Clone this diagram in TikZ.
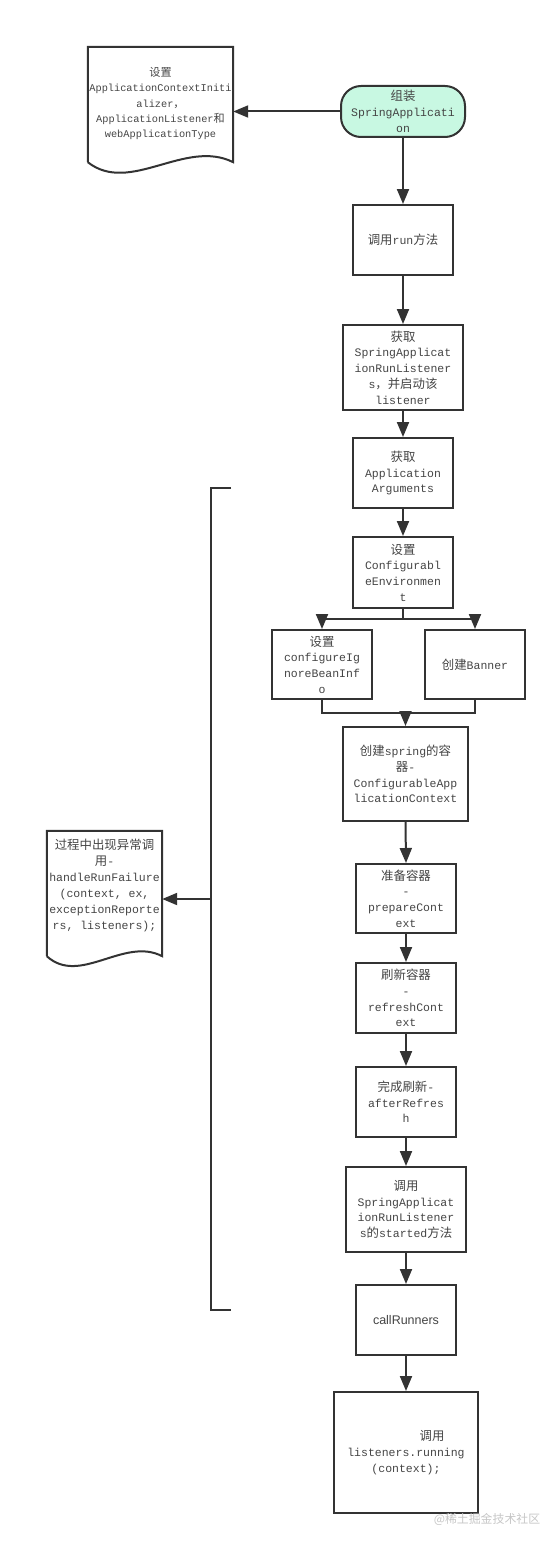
\documentclass[tikz,border=0pt]{standalone}
\usepackage{fontspec}
\setmainfont{Liberation Mono}
\newfontfamily\cjk[Scale=1.08]{Noto Sans CJK SC}
\newfontfamily\arial{Liberation Sans}
\usetikzlibrary{arrows.meta}
\definecolor{linec}{HTML}{333333}
\definecolor{txtc}{HTML}{444444}
\definecolor{mint}{HTML}{C8F8E2}
\newcommand{\zh}[1]{{\cjk #1}}
\tikzset{
  box/.style={draw=linec, line width=2pt, minimum width=100pt, minimum height=70pt,
    align=center, text=txtc, inner sep=1pt, font=\fontsize{11.5}{15.7}\selectfont},
  doctext/.style={align=center, text=txtc, inner sep=1pt},
  wire/.style={draw=linec, line width=2pt},
  flow/.style={wire, -{Triangle[length=15pt,width=12pt]}},
}
\begin{document}
\begin{tikzpicture}[x=1pt, y=-1pt]
\useasboundingbox (0,0) rectangle (557,1544);
% start and the two notes
\node[box, rounded corners=20pt, fill=mint, minimum width=124pt, minimum height=51pt] (start) at (403,111.5)
  {\zh{组装}\\SpringApplicati\\on};
\node[doctext, font=\fontsize{10.3}{15.2}\selectfont, minimum width=145pt, minimum height=113pt] (docA) at (160.5,103.5)
  {\zh{设置}\\ApplicationContextIniti\\alizer\zh{，}\\ApplicationListener\zh{和}\\webApplicationType};
\draw[wire] ([shift={(0,2)}]docA.south west) -- (docA.north west) -- (docA.north east) -- ([shift={(0,2)}]docA.south east)
  .. controls ([shift={(-48,-22)}]docA.south east) and ([shift={(42,35)}]docA.south west) .. ([shift={(0,2)}]docA.south west);
\node[doctext, font=\fontsize{11.5}{16}\selectfont, minimum width=115pt, minimum height=108pt] (docB) at (104.5,885)
  {\zh{过程中出现异常调}\\\zh{用}-\\handleRunFailure\\(context, ex,\\exceptionReporte\\rs, listeners);};
\draw[wire] ([shift={(0,17)}]docB.south west) -- (docB.north west) -- (docB.north east) -- ([shift={(0,17)}]docB.south east)
  .. controls ([shift={(-38,-3)}]docB.south east) and ([shift={(33,47)}]docB.south west) .. ([shift={(0,17)}]docB.south west);
% main steps
\node[box] (run) at (403,240) {\zh{调用}run\zh{方法}};
\node[box, minimum width=120pt, minimum height=85pt] (lsn) at (403,367.5)
  {\zh{获取}\\SpringApplicat\\ionRunListener\\s\zh{，并启动该}\\listener};
\node[box] (args) at (403,473) {\zh{获取}\\Application\\Arguments};
\node[box, minimum height=71pt] (env) at (403,572.5) {\zh{设置}\\Configurabl\\eEnvironmen\\t};
\node[box, minimum height=69pt] (ignore) at (322,664.5) {\zh{设置}\\configureIg\\noreBeanInf\\o};
\node[box, minimum height=69pt] (banner) at (475,664.5) {\zh{创建}Banner};
\node[box, minimum width=125pt, minimum height=94pt] (ctx) at (405.5,774)
  {\zh{创建}spring\zh{的容}\\\zh{器}-\\ConfigurableApp\\licationContext};
\node[box, minimum height=69pt] (prepare) at (406,898.5) {\zh{准备容器}\\-\\prepareCont\\ext};
\node[box] (refresh) at (406,998) {\zh{刷新容器}\\-\\refreshCont\\ext};
\node[box] (after) at (406,1102) {\zh{完成刷新}-\\afterRefres\\h};
\node[box, minimum width=120pt, minimum height=85pt] (started) at (406,1209.5)
  {\zh{调用}\\SpringApplicat\\ionRunListener\\s\zh{的}started\zh{方法}};
\node[box] (calls) at (406,1320) {\arial\fontsize{12.5}{15}\selectfont callRunners};
\node[box, minimum width=144pt, minimum height=121pt] (running) at (406,1452.5)
  {\hspace*{52pt}\zh{调用}\\listeners.running\\(context);};
\node[text=gray!45, font=\cjk\fontsize{11}{13}\selectfont] (mark) at (487,1519) {@稀土掘金技术社区};
% connectors
\draw[flow] (start.west) -- (start.west -| docA.east);
\draw[flow] (start.south) -- (run.north);
\draw[flow] (run.south) -- (lsn.north);
\draw[flow] (lsn.south) -- (args.north);
\draw[flow] (args.south) -- (env.north);
\coordinate (fork) at (403,619);
\draw[wire] (env.south) -- (fork);
\draw[flow] (fork) -| (ignore.north);
\draw[flow] (fork) -| (banner.north);
\coordinate (join) at (405.5,713);
\draw[wire] (ignore.south) |- (join);
\draw[wire] (banner.south) |- (join);
\draw[flow] (join) -- (ctx.north);
\draw[flow] (ctx.south) -- (prepare.north);
\draw[flow] (prepare.south) -- (refresh.north);
\draw[flow] (refresh.south) -- (after.north);
\draw[flow] (after.south) -- (started.north);
\draw[flow] (started.south) -- (calls.north);
\draw[flow] (calls.south) -- (running.north);
% failure bracket
\coordinate (brkTop) at (211,488);
\coordinate (brkBot) at (211,1310);
\coordinate (brkMid) at (211,899);
\draw[wire] ([shift={(20,0)}]brkTop) -- (brkTop) -- (brkBot) -- ([shift={(20,0)}]brkBot);
\draw[flow] (brkMid) -- (brkMid -| docB.east);
\end{tikzpicture}
\end{document}
